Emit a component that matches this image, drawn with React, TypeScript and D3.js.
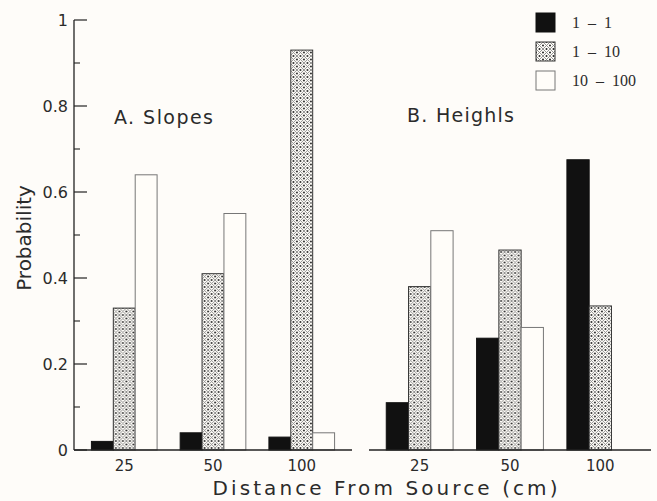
import * as d3 from 'd3';

// distance groups and size classes
const distances = ["25", "50", "100"];
const sizeClasses = ["1 – 1", "1 – 10", "10 – 100"];

// A. Slopes (probability by size class, per distance)
const slopesSmall = [0.02, 0.04, 0.03];
const slopesMid = [0.33, 0.41, 0.93];
const slopesLarge = [0.64, 0.55, 0.04];

// B. Heights
const heightsSmall = [0.11, 0.26, 0.675];
const heightsMid = [0.38, 0.465, 0.335];
const heightsLarge = [0.51, 0.285, 0];

const yTicks = [0, 0.2, 0.4, 0.6, 0.8, 1];
const yTickLabels = ["0", "0.2", "0.4", "0.6", "0.8", "1"];
const yMinorTicks = [0.1, 0.3, 0.5, 0.7, 0.9];

const W = 657;
const H = 501;
const axisX = 74;
const baseY = 450;
const txt = "#2b2b2b";
const sans = "'DejaVu Sans', sans-serif";

const y = d3.scaleLinear().domain([0, 1]).range([baseY, 20]);
const xLeft = d3.scaleBand().domain(distances).range([75, 351]).paddingInner(0.26).paddingOuter(0.185);
const xRight = d3.scaleBand().domain(distances).range([370, 650]).paddingInner(0.26).paddingOuter(0.18);

const fills = ["#111", "url(#checks)", "#fffdf9"];
const strokes = ["#111", "#333", "#777"];

type Panel = { x: d3.ScaleBand<string>; rows: number[][] };

const panels: Panel[] = [
    { x: xLeft, rows: [slopesSmall, slopesMid, slopesLarge] },
    { x: xRight, rows: [heightsSmall, heightsMid, heightsLarge] },
];

const Bars = ({ x, rows }: Panel) => {
    const inner = d3.scaleBand().domain(sizeClasses).range([0, x.bandwidth()]);
    const [r0, r1] = x.range();
    return (
        <g>
            {distances.map((d, i) => (
                <g key={d} transform={`translate(${x(d)},0)`}>
                    {sizeClasses.map((s, j) => {
                        const v = rows[j][i];
                        return (
                            <rect key={s}
                                x={inner(s)}
                                y={y(v)}
                                width={inner.bandwidth()}
                                height={baseY - y(v)}
                                fill={fills[j]}
                                stroke={strokes[j]}
                                strokeWidth={1}
                            />
                        );
                    })}
                    <text x={x.bandwidth() / 2} y={471} textAnchor="middle"
                        fontSize={15} fill={txt} fontFamily={sans}>{d}</text>
                </g>
            ))}
            <line x1={r0 - 1} x2={r1 + 1} y1={baseY} y2={baseY} stroke="#222" strokeWidth={1.3} />
        </g>
    );
};

export default function App() {
    return (
        <svg width={W} height={H} style={{ position: 'absolute', left: 0, top: 0, background: '#fefcf9' }}>
            <defs>
                <pattern id="checks" width={7} height={7} patternUnits="userSpaceOnUse">
                    <rect width={7} height={7} fill="#fffdf9" />
                    <path d="M0,0L7,7M7,0L0,7" stroke="#888" strokeWidth={0.9} />
                    <circle cx={3.5} cy={0} r={1} fill="#222" />
                    <circle cx={3.5} cy={7} r={1} fill="#222" />
                    <circle cx={0} cy={3.5} r={1} fill="#222" />
                    <circle cx={7} cy={3.5} r={1} fill="#222" />
                </pattern>
            </defs>

            {/* y axis */}
            <line x1={axisX} x2={axisX} y1={y(1)} y2={baseY} stroke="#222" strokeWidth={1.3} />
            {yTicks.map((t, i) => (
                <g key={t}>
                    <line x1={axisX} x2={axisX + 13} y1={y(t)} y2={y(t)} stroke="#222" strokeWidth={1.2} />
                    <text x={68} y={y(t)} dy="0.36em" textAnchor="end" fontSize={16}
                        fill={txt} fontFamily={sans}>{yTickLabels[i]}</text>
                </g>
            ))}
            {yMinorTicks.map(t => (
                <line key={t} x1={axisX} x2={axisX + 6} y1={y(t)} y2={y(t)} stroke="#222" strokeWidth={1.1} />
            ))}
            <text transform="translate(31,238) rotate(-90)" textAnchor="middle" fontSize={20}
                fill={txt} fontFamily={sans}>Probability</text>

            {panels.map((p, i) => <Bars key={i} {...p} />)}

            <text x={114} y={124} fontSize={19} fill={txt} fontFamily={sans} textLength={99}>A. Slopes</text>
            <text x={407} y={122} fontSize={19} fill={txt} fontFamily={sans} textLength={107}>B. Heighls</text>

            <text x={385} y={495} textAnchor="middle" fontSize={20} fill={txt} fontFamily={sans}
                textLength={345} lengthAdjust="spacing">Distance From Source (cm)</text>

            {/* legend */}
            {sizeClasses.map((s, j) => (
                <g key={s} transform={`translate(536,${13 + j * 29})`}>
                    <rect width={19} height={19} fill={fills[j]} stroke={strokes[j]} strokeWidth={1} />
                    <text x={36} y={15} fontSize={16} fill={txt}
                        fontFamily="'Liberation Serif', serif" style={{ whiteSpace: 'pre' }}>
                        {s.replace(' – ', '  –  ')}
                    </text>
                </g>
            ))}
        </svg>
    );
}
